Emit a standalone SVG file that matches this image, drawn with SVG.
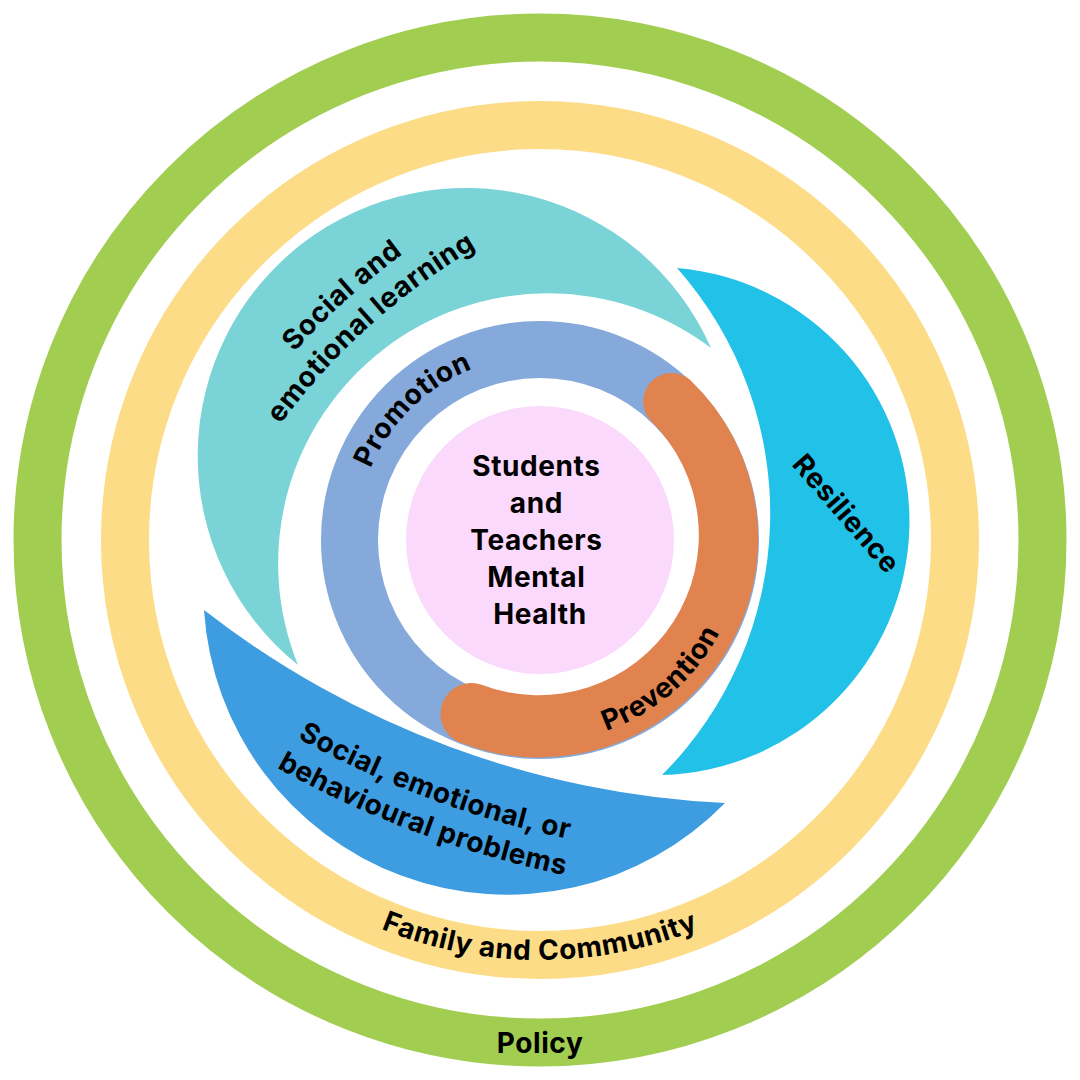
<svg xmlns="http://www.w3.org/2000/svg" width="1080" height="1080" viewBox="0 0 1080 1080">
<style>
.lbl{font-family:Inter,"Liberation Sans",sans-serif;font-weight:700;font-size:28px;fill:#000;letter-spacing:0.6px}
.ring{fill:none}
</style>
<defs>
<path id="p-family" d="M270,861.7 A420,420 0 0 0 810,861.7"/>
<path id="p-sel1" d="M198.0,490.1 A693,693 0 0 1 550.6,172.4"/>
<path id="p-sel2" d="M228.9,506.0 A658,658 0 0 1 563.4,204.9"/>
<path id="p-promo" d="M356.9,521.7 A184,184 0 0 1 526.2,356.5"/>
<path id="p-prev" d="M543.6,742 A202,202 0 0 0 739.5,571.6"/>
<path id="p-sebp1" d="M204.1,679.3 A977,977 0 0 0 678.0,855.7"/>
<path id="p-sebp2" d="M183.2,708.7 A1013,1013 0 0 0 674.6,891.5"/>
</defs>
<rect width="1080" height="1080" fill="#ffffff"/>
<g id="policy">
<circle class="ring" cx="540" cy="540" r="502.5" stroke="#A1CD51" stroke-width="48"/>
<text class="lbl" x="540" y="1053" text-anchor="middle">Policy</text>
</g>
<g id="family-community">
<circle class="ring" cx="540" cy="540" r="415" stroke="#FCDC87" stroke-width="48"/>
<text class="lbl"><textPath href="#p-family" startOffset="50%" text-anchor="middle">Family and Community</textPath></text>
</g>
<g id="social-emotional-learning">
<path d="M711,348 A268,268 0 1 0 298,665 A270,270 0 0 1 711,348 Z" fill="#7AD4D7"/>
<text class="lbl"><textPath href="#p-sel1" startOffset="50%" text-anchor="middle">Social and</textPath></text>
<text class="lbl"><textPath href="#p-sel2" startOffset="50%" text-anchor="middle">emotional learning</textPath></text>
</g>
<g id="resilience">
<path d="M677,268 A254,254 0 0 1 662,775 A370,370 0 0 0 677,268 Z" fill="#22C1E7"/>
<text class="lbl" transform="translate(839,520) rotate(49)" text-anchor="middle">Resilience</text>
</g>
<g id="sebp">
<path d="M204,610 A920,920 0 0 0 725,803 A304,304 0 0 1 204,610 Z" fill="#3D9DE0"/>
<text class="lbl"><textPath href="#p-sebp1" startOffset="50%" text-anchor="middle">Social, emotional, or</textPath></text>
<text class="lbl"><textPath href="#p-sebp2" startOffset="50%" text-anchor="middle">behavioural problems</textPath></text>
</g>
<g id="promotion">
<circle class="ring" cx="540" cy="540" r="190.5" stroke="#85A9DA" stroke-width="57"/>
<text class="lbl"><textPath href="#p-promo" startOffset="50%" text-anchor="middle">Promotion</textPath></text>
</g>
<g id="prevention">
<path d="M689.7,379.5 A219,219 0 0 1 458.4,742.1 A31,31 0 0 1 481.6,684.7 A160,160 0 0 0 650.9,421.1 A28.5,28.5 0 0 1 689.7,379.5 Z" fill="#E0834F"/>
<text class="lbl"><textPath href="#p-prev" startOffset="50%" text-anchor="middle">Prevention</textPath></text>
</g>
<g id="mental-health">
<circle cx="540" cy="540" r="134" fill="#FAD9FC"/>
<text class="lbl" text-anchor="middle">
<tspan x="540" y="476">Students</tspan>
<tspan x="540" y="513">and</tspan>
<tspan x="540" y="550">Teachers</tspan>
<tspan x="540" y="587">Mental</tspan>
<tspan x="540" y="624">Health</tspan>
</text>
</g>
<g id="connectors"/>
</svg>
